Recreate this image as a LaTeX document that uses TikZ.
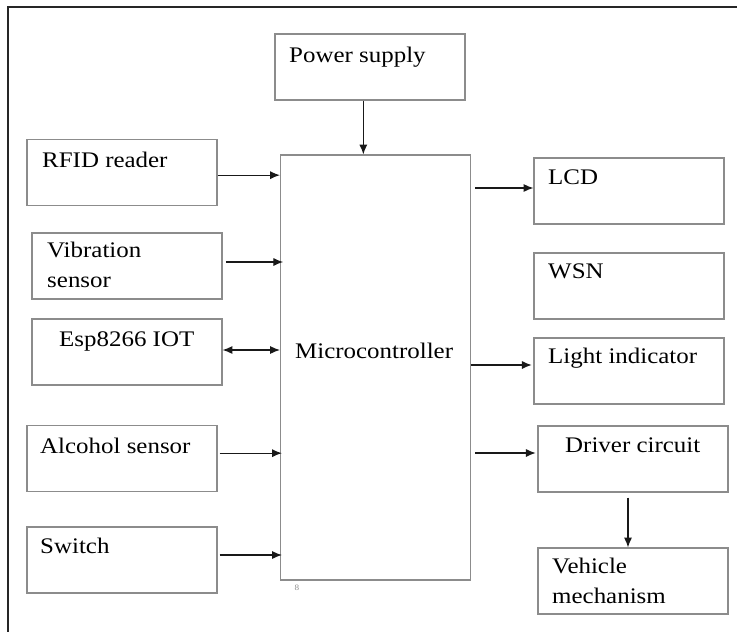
\documentclass[tikz,border=0pt]{standalone}
\usepackage{fontspec}
\setmainfont[FakeStretch=1.12]{Liberation Serif}
\usetikzlibrary{arrows.meta}

\begin{document}
\begin{tikzpicture}[x=0.03cm,y=-0.03cm,
		blk/.style={draw=black!45, line width=0.9pt, minimum width=5.7cm, minimum height=1.98cm, inner sep=0pt},
		txt/.style={inner sep=0pt, align=left, anchor=base west, font=\fontsize{19}{24.8}\selectfont},
		arr/.style={black!90, line width=1.1pt, -{Latex[length=8.5pt,width=7pt]}},
		frame/.style={black!85, line width=1.4pt}]
		\useasboundingbox (0,0) rectangle (737,631);
		
		%outline
		\draw[frame] (8,640) -- (8,7) -- (745,7);
		
		%boxes
		\node[blk] (power) at (370,67) {};
		\node[blk, minimum height=12.75cm] (micro) at (375.5,367.5) {};
		\node[blk] (rfid) at (122,172.5) {};
		\node[blk] (vib) at (127,266) {};
		\node[blk] (esp) at (127,352) {};
		\node[blk] (alc) at (122,458.5) {};
		\node[blk] (sw) at (122,560) {};
		\node[blk] (lcd) at (629,191) {};
		\node[blk] (wsn) at (629,286) {};
		\node[blk] (light) at (629,371) {};
		\node[blk] (drv) at (633,459) {};
		\node[blk] (veh) at (633,581) {};
		
		%labels (base = last line)
		\node[txt] (powertxt) at (289,62) {Power supply};
		\node[txt] (microtxt) at (295,358) {Microcontroller};
		\node[txt] (rfidtxt) at (42,167) {RFID reader};
		\node[txt] (vibtxt) at (47,287) {Vibration\\sensor};
		\node[txt] (esptxt) at (59,346) {Esp8266 IOT};
		\node[txt] (alctxt) at (40,453) {Alcohol sensor};
		\node[txt] (swtxt) at (40,553) {Switch};
		\node[txt] (lcdtxt) at (548,184) {LCD};
		\node[txt] (wsntxt) at (548,278) {WSN};
		\node[txt] (lighttxt) at (548,363) {Light indicator};
		\node[txt] (drvtxt) at (565,452) {Driver circuit};
		\node[txt] (vehtxt) at (552,603) {Vehicle\\mechanism};
		\node[inner sep=0pt, text=black!45, font=\fontsize{7}{7}\selectfont] (pg) at (297,588) {8};
		
		%inputs
		\draw[arr] ([yshift=-0.08cm]rfid.east) -- ([yshift=-0.08cm]rfid.east -| micro.west);
		\draw[arr] ([xshift=0.1cm,yshift=0.12cm]vib.east) -- ([xshift=0.1cm,yshift=0.12cm]vib.east -| micro.west);
		\draw[arr, {Latex[length=8.5pt,width=7pt]}-{Latex[length=8.5pt,width=7pt]}] ([yshift=0.06cm]esp.east) -- ([yshift=0.06cm]esp.east -| micro.west);
		\draw[arr] ([xshift=0.06cm,yshift=0.16cm]alc.east) -- ([xshift=0.06cm,yshift=0.16cm]alc.east -| micro.west);
		\draw[arr] ([xshift=0.06cm,yshift=0.15cm]sw.east) -- ([xshift=0.06cm,yshift=0.15cm]sw.east -| micro.west);
		
		%power
		\draw[arr] ([xshift=-0.2cm]power.south) -- ([xshift=-0.2cm]power.south |- micro.north);
		
		%outputs
		\draw[arr] ([xshift=0.12cm,yshift=0.09cm]micro.east |- lcd.west) -- ([yshift=0.09cm]lcd.west);
		\draw[arr] ([yshift=0.18cm]micro.east |- light.west) -- ([xshift=-0.05cm,yshift=0.18cm]light.west);
		\draw[arr] ([xshift=0.12cm,yshift=0.18cm]micro.east |- drv.west) -- ([xshift=-0.05cm,yshift=0.18cm]drv.west);
		\draw[arr] ([xshift=-0.15cm,yshift=-0.15cm]drv.south) -- ([xshift=-0.15cm]veh.north);
		
	\end{tikzpicture}
\end{document}
